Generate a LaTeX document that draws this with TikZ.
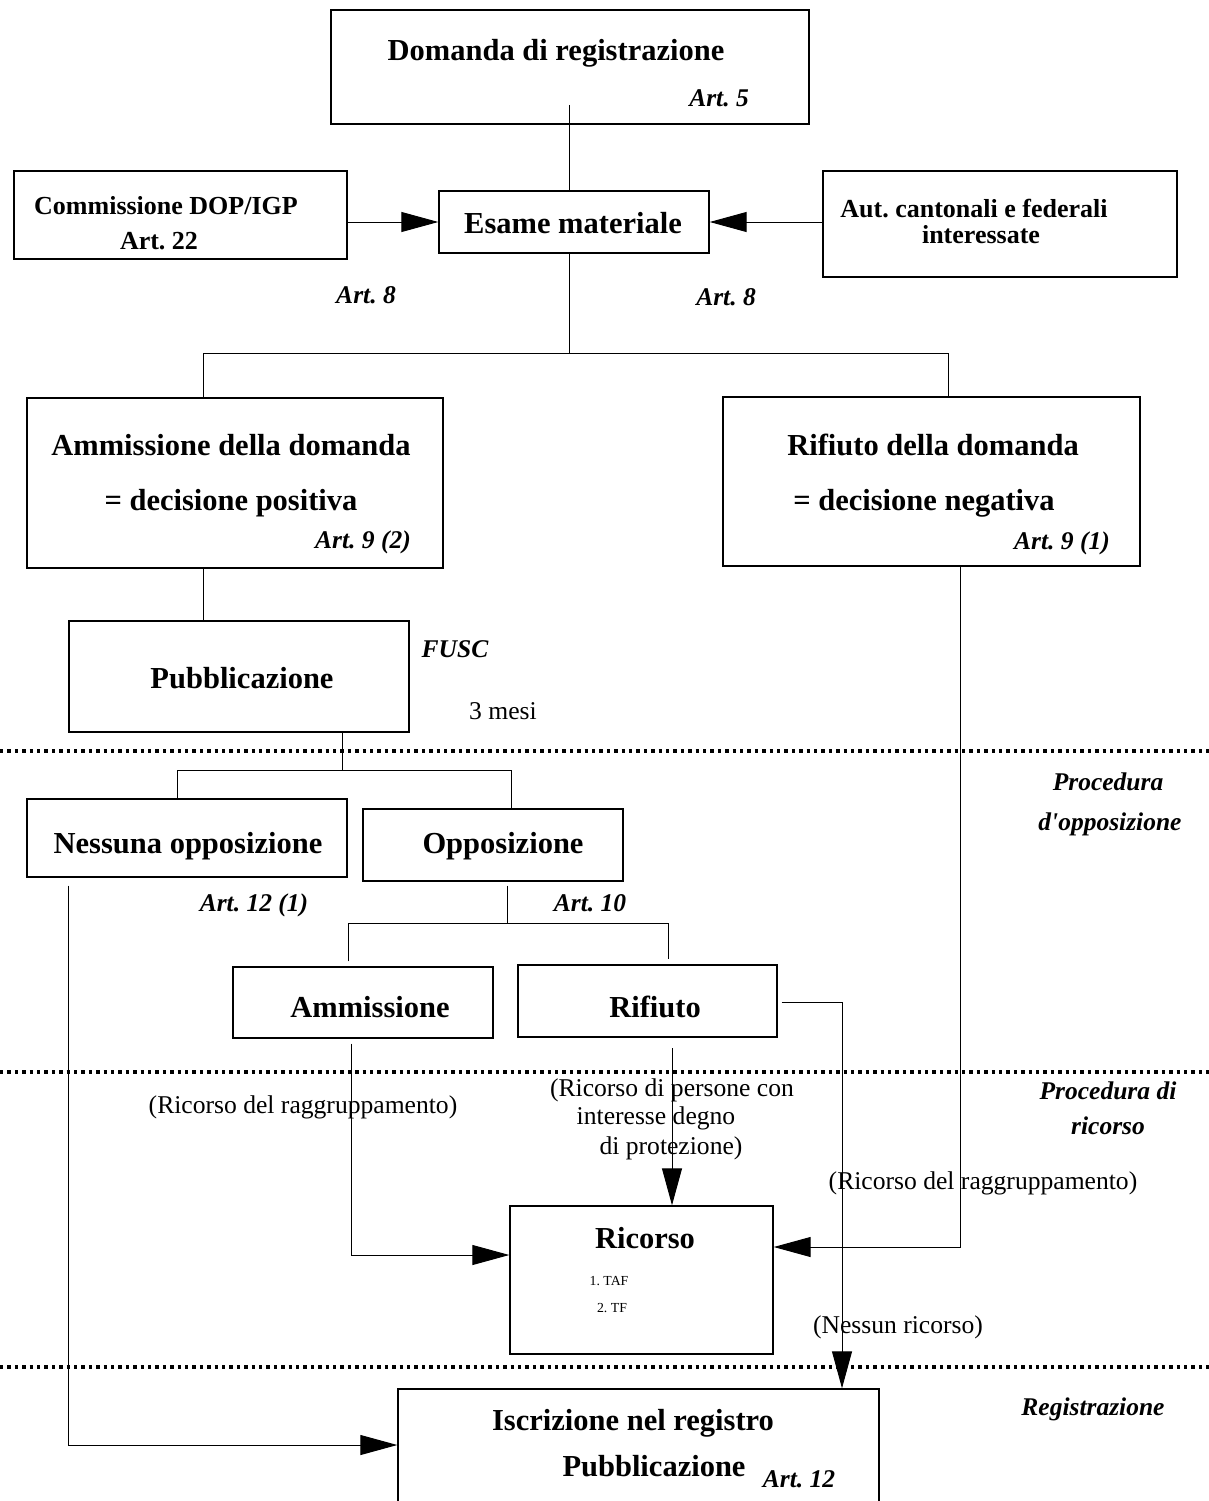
\documentclass[tikz,border=0pt]{standalone}
\usepackage{fontspec}
\setmainfont{Liberation Serif}
\usetikzlibrary{arrows.meta}
\frenchspacing

\begin{document}
\begin{tikzpicture}[x=1pt, y=-1pt, >={Triangle[length=37pt,width=20pt]},
  box/.style={draw, line width=1.4pt, inner sep=0pt},
  conn/.style={line width=1pt},
  sepline/.style={line width=3.4pt, dash pattern=on 3.4pt off 4pt},
  bigtxt/.style={inner sep=0pt, font=\fontsize{30.5}{36}\selectfont\bfseries},
  sidetxt/.style={inner sep=0pt, font=\fontsize{26}{31}\selectfont\bfseries},
  arttxt/.style={inner sep=0pt, font=\fontsize{25.5}{30}\selectfont\bfseries\itshape},
  notetxt/.style={inner sep=0pt, font=\fontsize{25.6}{30}\selectfont},
  smalltxt/.style={inner sep=0pt, font=\fontsize{13.8}{16}\selectfont}]
        \useasboundingbox (0,0) rectangle (1209,1501);
        \clip (0,0) rectangle (1209,1501);

        % boxes
        \node[box, minimum width=478pt, minimum height=114pt] (domanda) at (570,67) {};
        \node[box, minimum width=333pt, minimum height=88pt] (commissione) at (180.5,215) {};
        \node[box, minimum width=270pt, minimum height=62pt] (esame) at (574,222) {};
        \node[box, minimum width=354pt, minimum height=106pt] (aut) at (1000,224) {};
        \node[box, minimum width=416pt, minimum height=170pt] (ammdom) at (235,483) {};
        \node[box, minimum width=417pt, minimum height=169pt] (rifdom) at (931.5,481.5) {};
        \node[box, minimum width=340pt, minimum height=111pt] (pubbl) at (239,676.5) {};
        \node[box, minimum width=320pt, minimum height=78pt] (nessuna) at (187,838) {};
        \node[box, minimum width=260pt, minimum height=72pt] (oppos) at (493,845) {};
        \node[box, minimum width=260pt, minimum height=71pt] (ammiss) at (363,1002.5) {};
        \node[box, minimum width=259pt, minimum height=72pt] (rifiuto) at (647.5,1001) {};
        \node[box, minimum width=263pt, minimum height=148pt] (ricorso) at (641.5,1280) {};
        \node[box, minimum width=481pt, minimum height=131pt] (iscrizione) at (638.5,1454.5) {};

        % separators
        \draw[sepline] (0,751) -- (1209,751);
        \draw[sepline] (0,1072) -- (1209,1072);
        \draw[sepline] (0,1367) -- (1209,1367);

        % junctions
        \coordinate (dtail) at (569,105);
        \coordinate (j1) at (569,353);
        \coordinate (j1l) at (203,353);
        \coordinate (j1r) at (948,353);
        \coordinate (j2) at (342,770);
        \coordinate (j2l) at (177,770);
        \coordinate (j2r) at (511,770);
        \coordinate (j3) at (507,923);
        \coordinate (j3l) at (348,923);
        \coordinate (j3r) at (668,923);
        \coordinate (k1) at (842,1002);
        \coordinate (k2) at (351,1255);
        \coordinate (k3) at (960,1247);
        \coordinate (k4) at (68,1445);
        \coordinate (k5) at (672,1043);

        \draw[conn] (dtail) -- (esame.north -| dtail);
        \draw[conn,->] (commissione.east |- esame) -- (esame.west);
        \draw[conn,->] (aut.west |- esame) -- (esame.east);
        \draw[conn] (esame.south -| j1) -- (j1);
        \draw[conn] (ammdom.north -| j1l) |- (j1r) -- (rifdom.north -| j1r);
        \draw[conn] (ammdom.south -| j1l) -- (pubbl.north -| j1l);
        \draw[conn] (pubbl.south -| j2) -- (j2);
        \draw[conn] (nessuna.north -| j2l) |- (j2r) -- (oppos.north -| j2r);
        \draw[conn, shorten <=4pt] (oppos.south -| j3) -- (j3);
        \draw[conn, shorten <=5pt, shorten >=5pt] (ammiss.north -| j3l) |- (j3r) -- (rifiuto.north -| j3r);
        \draw[conn,->, shorten <=4pt] (rifiuto.east |- k1) -| (iscrizione.north -| k1);
        \draw[conn,->, shorten <=5pt] (ammiss.south -| k2) |- (ricorso.west |- k2);
        \draw[conn,->, shorten <=5pt] (k5) -- (ricorso.north -| k5);
        \draw[conn,->] (rifdom.south -| k3) |- (ricorso.east |- k3);
        \draw[conn,->, shorten <=8pt] (nessuna.south -| k4) |- (iscrizione.west |- k4);

        % texts
        \node[bigtxt] (tdomanda) at (556,53) {Domanda di registrazione};
        \node[arttxt] (tart5) at (719,98) {Art. 5};
        \node[sidetxt] (tcomm) at (166,206) {Commissione DOP/IGP};
        \node[sidetxt] (tart22) at (159,241) {Art. 22};
        \node[bigtxt] (tesame) at (573,223) {Esame materiale};
        \node[sidetxt] (taut1) at (974,209) {Aut. cantonali e federali};
        \node[sidetxt] (taut2) at (981,235) {interessate};
        \node[arttxt] (tart8l) at (366,295) {Art. 8};
        \node[arttxt] (tart8r) at (726,297) {Art. 8};
        \node[bigtxt] (tammdom1) at (231,445) {Ammissione della domanda};
        \node[bigtxt] (tammdom2) at (231,503) {= decisione positiva};
        \node[arttxt] (tart92) at (363,542) {Art. 9 (2)};
        \node[bigtxt] (trifdom1) at (933,445) {Rifiuto della domanda};
        \node[bigtxt] (trifdom2) at (924,503) {= decisione negativa};
        \node[arttxt] (tart91) at (1062,543) {Art. 9 (1)};
        \node[bigtxt] (tpubbl) at (242,678) {Pubblicazione};
        \node[arttxt] (tfusc) at (455,649) {FUSC};
        \node[notetxt] (tmesi) at (503,711) {3 mesi};
        \node[arttxt] (tproc1) at (1108,782) {Procedura};
        \node[arttxt] (tproc2) at (1110,824) {d\textquotesingle opposizione};
        \node[bigtxt] (tnessuna) at (188,846) {Nessuna opposizione};
        \node[bigtxt] (toppos) at (503,846) {Opposizione};
        \node[arttxt] (tart121) at (254,905) {Art. 12 (1)};
        \node[arttxt] (tart10) at (590,903) {Art. 10};
        \node[bigtxt] (tammiss) at (370,1007) {Ammissione};
        \node[bigtxt] (trifiuto) at (655,1007) {Rifiuto};
        \node[notetxt] (traggr1) at (303,1107) {(Ricorso del raggruppamento)};
        \node[notetxt] (tpers1) at (672,1090) {(Ricorso di persone con};
        \node[notetxt] (tpers2) at (656,1118) {interesse degno};
        \node[notetxt] (tpers3) at (671,1148) {di protezione)};
        \node[arttxt] (tric1) at (1108,1091) {Procedura di};
        \node[arttxt] (tric2) at (1108,1126) {ricorso};
        \node[notetxt] (traggr2) at (983,1183) {(Ricorso del raggruppamento)};
        \node[bigtxt] (tricorso) at (645,1238) {Ricorso};
        \node[smalltxt] (ttaf) at (609,1281) {1. TAF};
        \node[smalltxt] (ttf) at (612,1308) {2. TF};
        \node[notetxt] (tnessun) at (898,1327) {(Nessun ricorso)};
        \node[arttxt] (treg) at (1093,1409) {Registrazione};
        \node[bigtxt] (tiscr1) at (633,1423) {Iscrizione nel registro};
        \node[bigtxt] (tiscr2) at (654,1466) {Pubblicazione};
        \node[arttxt] (tart12) at (799,1479) {Art. 12};
        \end{tikzpicture}
\end{document}
